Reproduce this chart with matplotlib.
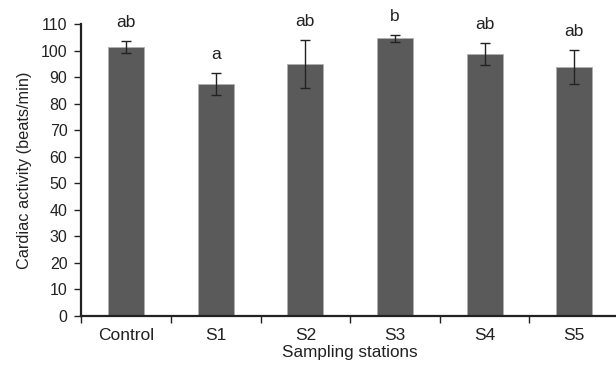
import matplotlib
matplotlib.use("Agg")
import matplotlib.pyplot as plt
from matplotlib.ticker import FixedLocator, NullFormatter

categories = ["Control", "S1", "S2", "S3", "S4", "S5"]
means = [101.4, 87.3, 94.9, 104.6, 98.7, 93.9]
errors = [2.2, 4.2, 9.1, 1.3, 4.2, 6.3]
letters = ["ab", "a", "ab", "b", "ab", "ab"]
yticks = list(range(0, 111, 10))

plt.rcParams['font.family'] = ['Liberation Sans', 'DejaVu Sans']

fig = plt.figure(figsize=(6.16, 3.66), dpi=100)
ax = fig.add_axes([0.132, 0.137, 0.873, 0.797])

x = list(range(len(categories)))
ax.bar(x, means, width=0.4, color='#5a5a5b', edgecolor='#b0b0b0', linewidth=0.6, zorder=2)
ax.errorbar(x, means, yerr=errors, fmt='none', ecolor='#222222', elinewidth=1.0,
            capsize=3.5, capthick=1.0, zorder=3)
for xi, m, e, t in zip(x, means, errors, letters):
    ax.annotate(t, (xi, m + e), xytext=(0, 8), textcoords='offset points',
                ha='center', va='bottom', fontsize=12.5, color='#222222')

ax.set_xlim(-0.5, 5.5)
ax.set_ylim(0, 110)
ax.set_yticks(yticks)
ax.set_xticks(x)
ax.set_xticklabels(categories)
ax.xaxis.set_minor_locator(FixedLocator([i - 0.5 for i in range(len(categories) + 1)]))
ax.xaxis.set_minor_formatter(NullFormatter())
ax.tick_params(axis='x', which='major', length=0, labelsize=12.5, pad=9, colors='#222222')
ax.tick_params(axis='x', which='minor', length=5, width=1.0, direction='out', color='#222222')
ax.tick_params(axis='y', length=5, width=1.0, direction='out', labelsize=11.5, pad=5, colors='#222222')

for s in ['top', 'right']:
    ax.spines[s].set_visible(False)
for s in ['left', 'bottom']:
    ax.spines[s].set_linewidth(1.6)
    ax.spines[s].set_color('#222222')

ax.set_ylabel("Cardiac activity (beats/min)", fontsize=11.7, color='#222222', labelpad=6)
ax.set_xlabel("Sampling stations", fontsize=12.3, color='#222222', labelpad=1)

fig.savefig("out.png", dpi=100)
